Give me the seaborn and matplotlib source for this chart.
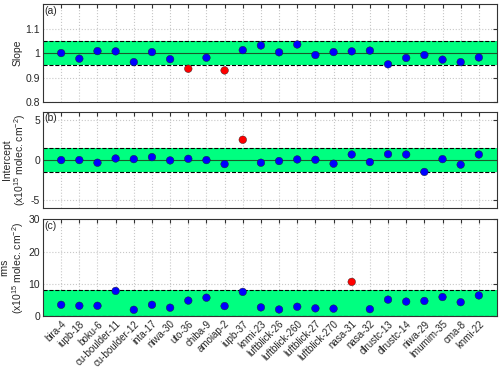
import matplotlib
matplotlib.use("Agg")
import matplotlib.pyplot as plt
import seaborn as sns
import pandas as pd
import numpy as np

stations = ["bira-4", "iupb-18", "boku-6", "cu-boulder-11", "cu-boulder-12", "inta-17",
            "niwa-30", "uto-36", "chiba-9", "amoiap-2", "iupb-37", "knmi-23",
            "luftblick-26", "luftblick-260", "luftblick-27", "luftblick-270", "nasa-31",
            "nasa-32", "dlrustc-13", "dlrustc-14", "niwa-29", "lmumim-35", "cma-8", "knmi-22"]

slope = [1.000, 0.977, 1.008, 1.007, 0.963, 1.004, 0.975, 0.936, 0.981, 0.929, 1.012, 1.031,
         1.003, 1.035, 0.992, 1.004, 1.007, 1.010, 0.954, 0.980, 0.992, 0.973, 0.963, 0.982]
intercept = [0.0, 0.0, -0.33, 0.2, 0.12, 0.37, -0.04, 0.16, 0.0, -0.5, 2.54, -0.33,
             -0.12, 0.08, 0.04, -0.45, 0.7, -0.25, 0.74, 0.7, -1.48, 0.12, -0.57, 0.7]
rms = [3.5, 3.2, 3.2, 7.8, 1.95, 3.5, 2.6, 4.8, 5.7, 3.1, 7.5, 2.7,
       2.05, 2.9, 2.4, 2.3, 10.6, 2.15, 5.1, 4.5, 4.7, 5.9, 4.3, 6.4]

slope_band = (0.95, 1.05)
intercept_band = (-1.5, 1.5)
rms_band = (0.0, 8.0)

sns.set_theme(style="white")
plt.rcParams['font.family'] = ['Liberation Sans', 'DejaVu Sans']
plt.rcParams['mathtext.fontset'] = 'custom'
plt.rcParams['mathtext.rm'] = 'Liberation Sans'

fig = plt.figure(figsize=(5.0, 3.71), dpi=100)
left, width = 0.086, 0.908
axes = [fig.add_axes([left, 0.725, width, 0.264]),
        fig.add_axes([left, 0.439, width, 0.259]),
        fig.add_axes([left, 0.148, width, 0.261])]

xpos = np.arange(1, len(stations) + 1)
green = "#00ff80"
pal = {"in": "#0000ff", "out": "#ff0000"}

panels = [
    (axes[0], slope, slope_band, 1.0, (0.8, 1.2), [0.8, 0.9, 1, 1.1], ["0.8", "0.9", "1", "1.1"], "Slope", "(a)"),
    (axes[1], intercept, intercept_band, 0.0, (-6, 6), [-5, 0, 5], ["-5", "0", "5"],
     "Intercept\n(x10$^{15}$ molec. cm$^{-2}$)", "(b)"),
    (axes[2], rms, rms_band, None, (0, 30), [0, 10, 20, 30], ["0", "10", "20", "30"],
     "rms\n(x10$^{15}$ molec. cm$^{-2}$)", "(c)"),
]

for ax, vals, band, center, ylim, yt, ytl, ylab, tag in panels:
    df = pd.DataFrame({"x": xpos, "y": vals})
    df["status"] = np.where((df["y"] < band[0]) | (df["y"] > band[1]), "out", "in")
    ax.set_xlim(0, 25)
    ax.set_ylim(*ylim)
    ax.set_xticks(xpos)
    ax.set_yticks(yt)
    ax.set_yticklabels(ytl)
    ax.grid(True, linestyle=":", color="#c8c8c8", linewidth=0.8)
    ax.set_axisbelow(True)
    ax.axhspan(band[0], band[1], color=green, zorder=1.5, lw=0)
    ax.axhline(band[0], color="black", ls="--", lw=0.8, zorder=1.6)
    ax.axhline(band[1], color="black", ls="--", lw=0.8, zorder=1.6)
    if center is not None:
        ax.axhline(center, color="#1a5a2a", lw=0.8, zorder=1.6)
    sns.scatterplot(data=df, x="x", y="y", hue="status", palette=pal, s=30,
                    edgecolor="#202020", linewidth=0.3, legend=False, ax=ax, zorder=3)
    ax.set_xlabel("")
    ax.set_ylabel(ylab, fontsize=7.5, linespacing=1.05, labelpad=2)
    ax.tick_params(axis="both", direction="in", top=True, right=True, length=3,
                   width=0.8, labelsize=7.5, pad=2, color="#333333")
    for sp in ax.spines.values():
        sp.set_color("#333333")
        sp.set_linewidth(0.8)
    ax.text(0.004, 0.985, tag, transform=ax.transAxes, ha="left", va="top", fontsize=7.5)
    if ax is not axes[2]:
        ax.set_xticklabels([])
    else:
        ax.set_xticklabels(stations, rotation=45, ha="right", rotation_mode="anchor", fontsize=7)

fig.align_ylabels(axes)
fig.savefig("out.png", dpi=100)
